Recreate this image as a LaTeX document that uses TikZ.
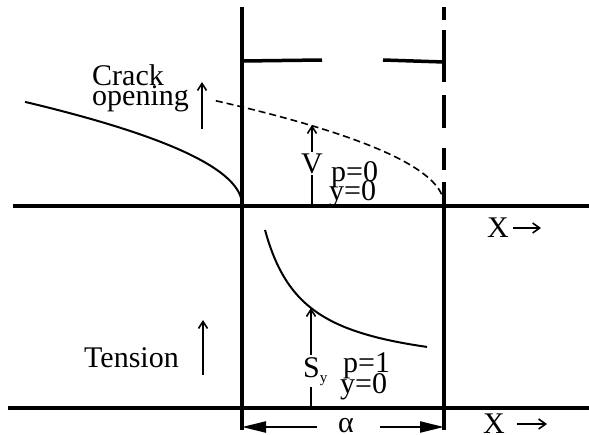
\documentclass[tikz,border=0pt]{standalone}
\usepackage{fontspec}
\setmainfont{Liberation Serif}
\usetikzlibrary{arrows.meta}
\begin{document}
\begin{tikzpicture}[x=1pt,y=-1pt,
  thickline/.style={line width=3.5pt},
  curveline/.style={line width=2pt},
  dashcurve/.style={line width=1.6pt, dash pattern=on 7pt off 4pt},
  uparrow/.style={line width=2pt, -{Straight Barb[length=7pt,width=9pt,line width=1.6pt]}},
  xarrow/.style={line width=1.8pt, -{Straight Barb[length=7pt,width=10pt,line width=1.6pt]}},
  dimarrow/.style={line width=2.2pt, -{Triangle[length=24pt,width=11pt]}},
  lbl/.style={font=\fontsize{30}{20}\selectfont, inner sep=0pt, anchor=base west},
  cutlbl/.style={font=\fontsize{30}{20}\selectfont, fill=white, inner sep=1.5pt, anchor=base}]
\useasboundingbox (0,0) rectangle (589,434);

% frame lines
\coordinate (L1) at (242,7);   \coordinate (L2) at (242,430);
\draw[thickline] (L1) -- (L2);
\coordinate (R0) at (444,7);   \coordinate (R1) at (444,20);
\coordinate (R2) at (444,30);  \coordinate (R3) at (444,82);
\coordinate (R4) at (444,95);  \coordinate (R5) at (444,128);
\coordinate (R6) at (444,148); \coordinate (R7) at (444,170);
\coordinate (R8) at (444,182); \coordinate (R9) at (444,430);
\draw[thickline] (R0) -- (R1) (R2) -- (R3) (R4) -- (R5) (R6) -- (R7) (R8) -- (R9);

\coordinate (T1) at (242,61); \coordinate (T2) at (322,60);
\coordinate (T3) at (383,60); \coordinate (T4) at (444,62);
\draw[thickline] (T1) -- (T2) (T3) -- (T4);

\coordinate (A1) at (13,206); \coordinate (A2) at (589,206);
\draw[thickline] (A1) -- (A2);
\coordinate (B1) at (8,408); \coordinate (B2) at (589,408);
\draw[thickline] (B1) -- (B2);

% crack profile curves
\draw[curveline] plot[domain=0:14.73, samples=60, smooth] ({242-\x*\x},{205-7*\x});
\draw[dashcurve] plot[domain=0:15.23, samples=60, smooth] ({444-\x*\x},{205-6.9*\x});

% stress curve
\draw[curveline] plot[domain=265:427, samples=80, smooth] ({\x},{375.8-5834/(\x-225)});

% labels upper
\node[lbl] (crack) at (92,85) {Crack};
\node[lbl] (opening) at (92,105) {opening};
\coordinate (co1) at (202,129); \coordinate (co2) at (202,82);
\draw[uparrow] (co1) -- (co2);

\coordinate (vb) at (312,206); \coordinate (vt) at (312,125);
\draw[uparrow] (vb) -- (vt);
\node[cutlbl] (V) at (312,173) {V};
\node[lbl] (p0) at (331,181) {p=0};
\node[lbl] (y0a) at (329,200) {y=0};

\node[lbl] (X1) at (487,237) {X};
\coordinate (xa1) at (513,228); \coordinate (xa2) at (541,228);
\draw[xarrow] (xa1) -- (xa2);

% labels lower
\node[lbl] (tension) at (84,367) {Tension};
\coordinate (te1) at (203,375); \coordinate (te2) at (203,320);
\draw[uparrow] (te1) -- (te2);

\coordinate (sb) at (311,408); \coordinate (st) at (311,308);
\draw[uparrow] (sb) -- (st);
\node[cutlbl, anchor=base west, inner sep=2pt] (Sy) at (301,377) {S\raisebox{-5pt}{\fontsize{15}{15}\selectfont y}};
\node[lbl] (p1) at (343,372) {p=1};
\node[lbl] (y0b) at (340,393) {y=0};

% dimension alpha
\coordinate (d1) at (317,427); \coordinate (d2) at (242,427);
\coordinate (d3) at (380,427); \coordinate (d4) at (444,427);
\draw[dimarrow] (d1) -- (d2);
\draw[dimarrow] (d3) -- (d4);
\node[font=\fontsize{30}{20}\selectfont, inner sep=0pt] (alpha) at (346,426) {α};

\node[lbl] (X2) at (483,433) {X};
\coordinate (xb1) at (517,424); \coordinate (xb2) at (547,424);
\draw[xarrow] (xb1) -- (xb2);
\end{tikzpicture}
\end{document}
